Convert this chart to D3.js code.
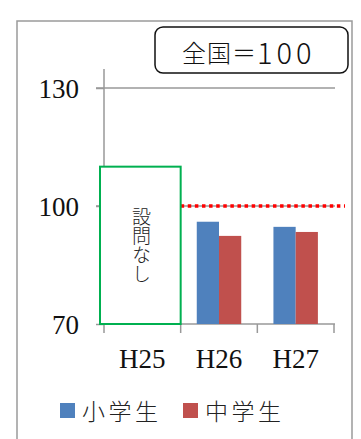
<!DOCTYPE html>
<html lang="ja">
<head>
<meta charset="utf-8">
<title>全国＝100</title>
<script src="https://cdn.jsdelivr.net/npm/d3@7"></script>
<style>
  body { margin: 0; background: #fff; }
  svg { display: block; }
</style>
</head>
<body>
<svg></svg>
<script>

    // data
    const categories = ['H25', 'H26', 'H27'];
    const series = ['小学生', '中学生'];
    const elementary = [null, 96.0, 94.7];
    const junior = [null, 92.4, 93.4];
    const yTicks = [70, 100, 130];
    const colors = ['#4f81bd', '#c0504d'];
    const baseline = 100;
    const noDataTop = 110;

    const width = 361, height = 439;
    const serif = '"Liberation Serif", "DejaVu Serif", serif';
    const jp = '"Noto Sans CJK JP", sans-serif';

    let svg = d3.select('svg')
        .attr('width', width)
        .attr('height', height);

    // outer frame (bottom edge runs off the picture)
    svg.append('rect')
        .attr('x', 17).attr('y', 21)
        .attr('width', 335).attr('height', 440)
        .attr('fill', 'none')
        .attr('stroke', '#9a9a9a')
        .attr('stroke-width', 1.5);

    let yScale = d3.scaleLinear().domain([70, 130]).range([324, 88]);
    let xScale = d3.scaleBand().domain(categories).range([104, 334]).padding(0);
    let bw = xScale.bandwidth();
    let xInner = d3.scaleBand().domain(series).range([bw * 0.21, bw * 0.79]).padding(0);

    // gridlines
    svg.append('g')
        .selectAll('line')
        .data(yTicks.filter(d => d > 70))
        .enter()
        .append('line')
        .attr('x1', 96).attr('x2', 335)
        .attr('y1', d => yScale(d)).attr('y2', d => yScale(d))
        .style('stroke', '#999').style('stroke-width', 1.5);

    // y axis
    let yAxis = svg.append('g')
        .attr('transform', 'translate(104,0)')
        .call(d3.axisLeft(yScale).tickValues(yTicks).tickSize(8).tickPadding(17));
    yAxis.select('.domain').remove();
    yAxis.selectAll('.tick line').style('stroke', '#999').style('stroke-width', 1.5);
    yAxis.selectAll('.tick text')
        .attr('dy', '0.34em')
        .style('font-family', serif).style('font-size', '27px').style('fill', '#111');
    svg.append('line')
        .attr('x1', 104).attr('x2', 104).attr('y1', 69).attr('y2', 324)
        .style('stroke', '#999').style('stroke-width', 1.5);

    // x axis
    let xAxis = svg.append('g')
        .attr('transform', 'translate(0,324)')
        .call(d3.axisBottom(xScale).tickSize(0).tickPadding(0));
    xAxis.select('.domain').remove();
    xAxis.selectAll('.tick text')
        .attr('y', 44).attr('dy', 0)
        .style('font-family', serif).style('font-size', '27px').style('fill', '#111');
    svg.append('line')
        .attr('x1', 100).attr('x2', 335).attr('y1', 324).attr('y2', 324)
        .style('stroke', '#999').style('stroke-width', 1.5);
    svg.append('g')
        .selectAll('line')
        .data(categories.concat(['end']))
        .enter()
        .append('line')
        .attr('x1', (d, i) => 104 + i * bw).attr('x2', (d, i) => 104 + i * bw)
        .attr('y1', 324).attr('y2', 333)
        .style('stroke', '#999').style('stroke-width', 1.5);

    // baseline = 100 dotted line
    svg.append('line')
        .attr('x1', xScale('H26')).attr('x2', 345)
        .attr('y1', yScale(baseline)).attr('y2', yScale(baseline))
        .style('stroke', '#ff0000').style('stroke-width', 3.5)
        .style('stroke-dasharray', '3.5,3.6');

    // bars
    let rows = categories.map((c, i) => ({ cat: c, values: [elementary[i], junior[i]] }));
    svg.append('g')
        .selectAll('g')
        .data(rows)
        .enter()
        .append('g')
        .attr('transform', d => `translate(${xScale(d.cat)},0)`)
        .selectAll('rect')
        .data(d => d.values.map((v, j) => ({ s: series[j], v: v, j: j })).filter(d => d.v != null))
        .enter()
        .append('rect')
        .attr('x', d => xInner(d.s))
        .attr('width', xInner.bandwidth())
        .attr('y', d => yScale(d.v))
        .attr('height', d => yScale(70) - yScale(d.v))
        .attr('fill', d => colors[d.j]);

    // H25: no question box, vertical text
    svg.append('rect')
        .attr('x', xScale('H25') - 4)
        .attr('y', yScale(noDataTop))
        .attr('width', bw + 4)
        .attr('height', yScale(70) - yScale(noDataTop))
        .attr('fill', '#fff')
        .attr('stroke', '#00b050')
        .attr('stroke-width', 2);
    svg.append('text')
        .attr('x', 141.5)
        .attr('y', 245)
        .attr('text-anchor', 'middle')
        .style('writing-mode', 'vertical-rl')
        .style('font-family', jp).style('font-size', '19px').style('font-weight', 300)
        .style('fill', '#222')
        .text('設問なし');

    // title box
    svg.append('rect')
        .attr('x', 155).attr('y', 27)
        .attr('width', 193).attr('height', 46)
        .attr('rx', 8)
        .attr('fill', '#fff')
        .attr('stroke', '#111').attr('stroke-width', 1.5);
    let title = svg.append('text')
        .attr('x', 182).attr('y', 51)
        .attr('dominant-baseline', 'central')
        .style('font-family', jp).style('font-weight', 300)
        .style('fill', '#111');
    title.append('tspan').style('font-size', '24px').style('letter-spacing', '1px').text('全国＝');
    title.append('tspan').style('font-size', '29px').style('letter-spacing', '4px').text('100');

    // legend
    let legend = svg.append('g')
        .selectAll('g')
        .data(series)
        .enter()
        .append('g')
        .attr('transform', (d, i) => `translate(${60 + i * 123},403)`);
    legend.append('rect')
        .attr('width', 15).attr('height', 15)
        .attr('fill', (d, i) => colors[i]);
    legend.append('text')
        .attr('x', 22).attr('y', 7)
        .attr('dominant-baseline', 'central')
        .style('font-family', jp).style('font-size', '23px').style('font-weight', 300)
        .style('letter-spacing', '3.5px')
        .style('fill', '#222')
        .text(d => d);

</script>
</body>
</html>
